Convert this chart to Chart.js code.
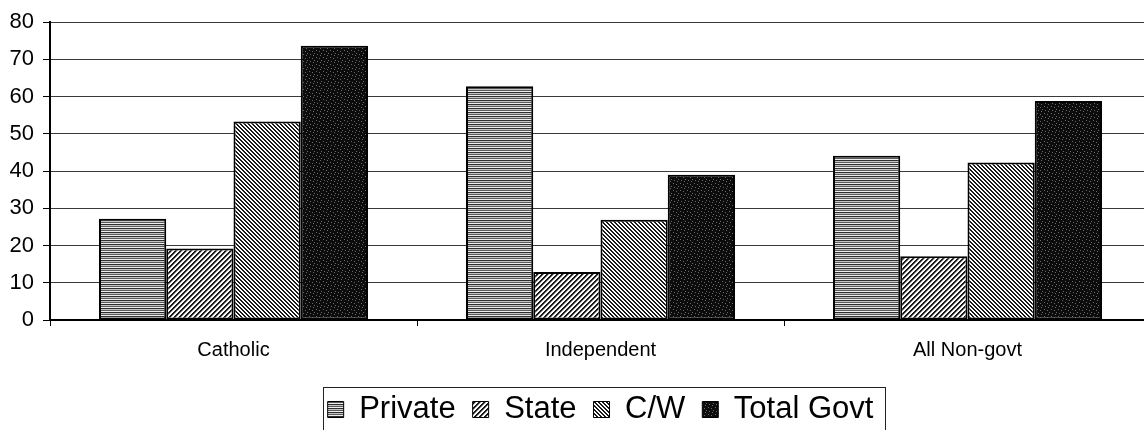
<!DOCTYPE html>
<html>
<head>
<meta charset="utf-8">
<script src="https://cdn.jsdelivr.net/npm/chart.js@4/dist/chart.umd.min.js"></script>
<style>
  html, body { margin: 0; padding: 0; background: #fff; overflow: hidden; }
  canvas { display: block; }
</style>
</head>
<body>
<canvas id="chart" width="1152" height="435"></canvas>
<script>
// School sectors and the share (%) from each funding source
const categories = ['Catholic', 'Independent', 'All Non-govt'];
const seriesNames = ['Private', 'State', 'C/W', 'Total Govt'];
const privateShare = [27.2, 62.8, 44.1];
const stateShare = [19.2, 12.9, 17.1];
const cwShare = [53.3, 26.9, 42.3];
const totalGovtShare = [73.7, 39.0, 58.8];
const yTicks = [0, 10, 20, 30, 40, 50, 60, 70, 80];

const FONT = '"Liberation Sans", Arial, Helvetica, sans-serif';

// Small repeating tiles used as hatch fills
function tile(size, paint) {
  const c = document.createElement('canvas');
  c.width = c.height = size;
  const g = c.getContext('2d');
  paint(g, size);
  return g.createPattern(c, 'repeat');
}
function px(g, x, y, col) { g.fillStyle = col; g.fillRect(x, y, 1, 1); }

const fillPrivate = tile(4, (g, n) => {
  const rows = ['#2e2e2e', '#c4c4c4', '#5a5a5a', '#eeeeee'];
  rows.forEach((col, y) => { g.fillStyle = col; g.fillRect(0, y, n, 1); });
});
const fillState = tile(5, (g, n) => {
  g.fillStyle = '#fff'; g.fillRect(0, 0, n, n);
  for (let x = 0; x < n; x++) for (let y = 0; y < n; y++) {
    const k = (x + y) % n;
    if (k < 2) px(g, x, y, '#1a1a1a');
    else if (k === 2) px(g, x, y, '#9a9a9a');
  }
});
const fillCW = tile(4, (g, n) => {
  g.fillStyle = '#fff'; g.fillRect(0, 0, n, n);
  for (let x = 0; x < n; x++) for (let y = 0; y < n; y++)
    if ((x - y + 2 * n) % n < 2) px(g, x, y, '#1a1a1a');
});
const fillTotal = tile(7, (g, n) => {
  g.fillStyle = '#0c0c0c'; g.fillRect(0, 0, n, n);
  [[1, 1], [4, 2], [2, 5], [6, 4], [5, 6]].forEach(([x, y]) => px(g, x, y, '#6a6a6a'));
});

const seriesValues = [privateShare, stateShare, cwShare, totalGovtShare];
const seriesFills = [fillPrivate, fillState, fillCW, fillTotal];

// Frame drawn round the legend entries
const legendFrame = {
  id: 'legendFrame',
  afterDraw(chart) {
    const boxes = chart.legend && chart.legend.legendHitBoxes;
    if (!boxes || !boxes.length) return;
    const left = Math.min(...boxes.map(b => b.left)) - 5;
    const right = Math.max(...boxes.map(b => b.left + b.width)) + 11;
    const top = boxes[0].top - 7;
    const bottom = boxes[0].top + boxes[0].height + 14;
    const ctx = chart.ctx;
    ctx.save();
    ctx.strokeStyle = '#222';
    ctx.lineWidth = 1;
    ctx.strokeRect(Math.round(left) + 0.5, Math.round(top) + 0.5, Math.round(right - left), Math.round(bottom - top));
    ctx.restore();
  }
};

new Chart(document.getElementById('chart'), {
  type: 'bar',
  data: {
    labels: categories,
    datasets: seriesNames.map((name, i) => ({
      label: name,
      data: seriesValues[i],
      backgroundColor: seriesFills[i],
      borderColor: '#000',
      borderWidth: 2,
      borderSkipped: false,
      categoryPercentage: 0.733,
      barPercentage: 1.0
    }))
  },
  options: {
    responsive: false,
    animation: false,
    layout: { padding: { top: 20, right: 1, left: 0, bottom: 0 } },
    plugins: {
      tooltip: { enabled: false },
      legend: {
        position: 'bottom',
        fullSize: false,
        labels: {
          font: { family: FONT, size: 31 },
          color: '#000',
          boxWidth: 16,
          boxHeight: 16,
          padding: 17,
          generateLabels(chart) {
            return Chart.defaults.plugins.legend.labels.generateLabels(chart)
              .map(l => Object.assign(l, { lineWidth: 1 }));
          }
        }
      }
    },
    scales: {
      x: {
        offset: true,
        grid: {
          offset: true,
          drawOnChartArea: false,
          drawTicks: true,
          tickLength: 6,
          tickColor: '#000'
        },
        border: { color: '#000', width: 2 },
        ticks: {
          font: { family: FONT, size: 20 },
          color: '#000',
          padding: 12
        },
        afterFit(scale) { scale.height = 57; }
      },
      y: {
        min: 0,
        max: 80,
        afterBuildTicks(scale) { scale.ticks = yTicks.map(v => ({ value: v })); },
        grid: {
          color: '#3a3a3a',
          lineWidth: 1,
          tickLength: 7,
          tickColor: '#000'
        },
        border: { color: '#000', width: 2 },
        ticks: {
          font: { family: FONT, size: 22 },
          color: '#000',
          padding: 9
        },
        afterFit(scale) { scale.width = 50; }
      }
    }
  },
  plugins: [legendFrame]
});
</script>
</body>
</html>
